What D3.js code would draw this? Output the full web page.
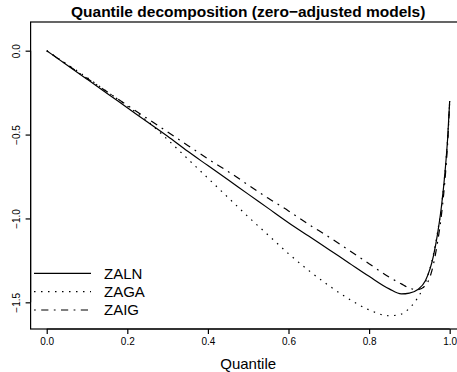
<!DOCTYPE html>
<html><head><meta charset="utf-8">
<script src="https://cdn.jsdelivr.net/npm/d3@7"></script>
<style>html,body{margin:0;padding:0;background:#fff;}svg{display:block;font-family:"Liberation Sans",Arial,Helvetica,sans-serif;}</style>
</head><body>
<script>
const quantiles = [0, .05, .1, .15, .2, .25, .3, .35, .4, .45, .5, .55, .6, .65, .7, .75, .8, .85, .88, .9, .92, .94, .96, .97, .98, .99, .995, 1];
const zaln = [0, -.085, -.17, -.255, -.34, -.425, -.51, -.6, -.685, -.77, -.855, -.94, -1.025, -1.105, -1.185, -1.265, -1.345, -1.42, -1.45, -1.445, -1.425, -1.37, -1.22, -1.09, -0.92, -0.68, -0.52, -0.30];
const zaga = [0, -.08, -.16, -.245, -.33, -.42, -.53, -.645, -.76, -.875, -.99, -1.1, -1.21, -1.31, -1.40, -1.48, -1.545, -1.58, -1.57, -1.535, -1.475, -1.38, -1.21, -1.08, -0.92, -0.68, -0.52, -0.30];
const zaig = [0, -.083, -.165, -.245, -.325, -.405, -.485, -.565, -.645, -.72, -.8, -.88, -.955, -1.035, -1.11, -1.19, -1.27, -1.35, -1.39, -1.415, -1.425, -1.4, -1.27, -1.14, -0.97, -0.72, -0.55, -0.30];
const seriesNames = ["ZALN", "ZAGA", "ZAIG"];
const xTicks = [0, 0.2, 0.4, 0.6, 0.8, 1.0];
const yTicks = [0, -0.5, -1.0, -1.5];
const title = "Quantile decomposition (zero\u2212adjusted models)";
const xLabel = "Quantile";

const W = 457, H = 372;
const L = 30.6, R = 465.8, T = 22, B = 329;
const x = d3.scaleLinear().domain([-0.04, 1.04]).range([L, R]);
const y = d3.scaleLinear().domain([-1.659, 0.171]).range([B, T]);

const svg = d3.select("body").append("svg").attr("width", W).attr("height", H);
const fmt = v => (v < 0 ? "\u2212" : "") + Math.abs(v).toFixed(1);

const dashes = ["none", "1.5 5.5", "1.8 5.4 7.2 5.4"];
const data = [zaln, zaga, zaig];
const line = d3.line().x(d => x(d[0])).y(d => y(d[1])).curve(d3.curveMonotoneX);
data.forEach((vals, i) => {
  svg.append("path")
    .attr("d", line(quantiles.map((q, j) => [q, vals[j]])))
    .attr("fill", "none").attr("stroke", "#000").attr("stroke-width", 1.2)
    .attr("stroke-dasharray", dashes[i]);
});

// box
svg.append("rect").attr("x", L).attr("y", T).attr("width", R - L).attr("height", B - T)
  .attr("fill", "none").attr("stroke", "#000").attr("stroke-width", 1.2);

// x axis
const xAxis = d3.axisBottom(x).tickValues(xTicks).tickSize(5).tickFormat(d => d.toFixed(1));
const gx = svg.append("g").attr("transform", `translate(0,${B})`).call(xAxis);
gx.select(".domain").attr("d", `M${x(0)},0H${x(1)}`).attr("stroke-width", 1.2);
gx.selectAll(".tick line").attr("stroke-width", 1.2);
gx.selectAll(".tick text").attr("font-size", 10).attr("font-family", null).attr("dy", null).attr("y", 16.3);

// y axis
const yAxis = d3.axisLeft(y).tickValues(yTicks).tickSize(5).tickFormat(fmt);
const gy = svg.append("g").attr("transform", `translate(${L},0)`).call(yAxis);
gy.select(".domain").attr("d", `M0,${y(0)}V${y(-1.5)}`).attr("stroke-width", 1.2);
gy.selectAll(".tick line").attr("stroke-width", 1.2);
gy.selectAll(".tick text").attr("font-size", 10).attr("font-family", null)
  .attr("x", null).attr("dy", null).attr("text-anchor", "middle")
  .attr("transform", "translate(-10.6,0) rotate(-90)");

// title
svg.append("text").attr("x", (L + R) / 2).attr("y", 17).attr("text-anchor", "middle")
  .attr("font-weight", "bold").attr("font-size", 15.5).text(title);
// x label
svg.append("text").attr("x", (L + R) / 2).attr("y", 369).attr("text-anchor", "middle")
  .attr("font-size", 15).text(xLabel);

// legend
const legY = [273.3, 291.7, 310];
seriesNames.forEach((n, i) => {
  svg.append("line").attr("x1", 34).attr("x2", 91).attr("y1", legY[i]).attr("y2", legY[i])
    .attr("stroke", "#000").attr("stroke-width", 1.2).attr("stroke-dasharray", dashes[i]);
  svg.append("text").attr("x", 104).attr("y", legY[i] + 5.3).attr("font-size", 15).text(n);
});
</script>
</body></html>
